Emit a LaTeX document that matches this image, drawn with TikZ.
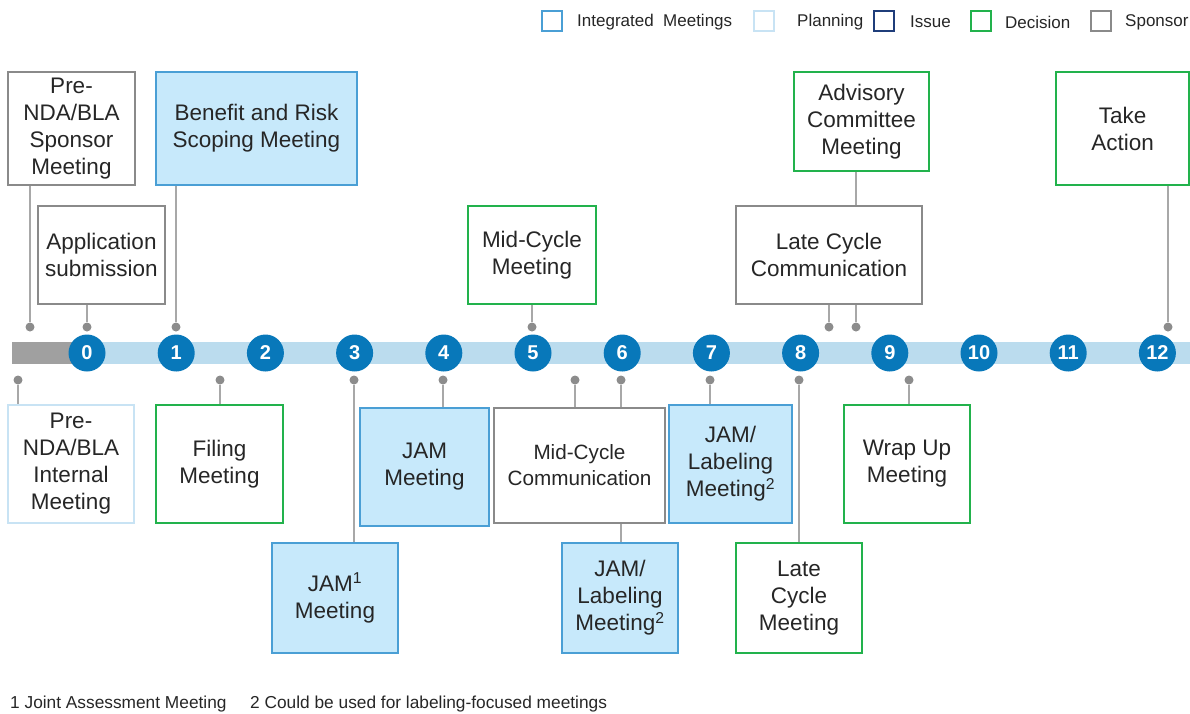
\documentclass[tikz,border=0pt]{standalone}
\usepackage{fontspec}
\setmainfont{Liberation Sans}
\definecolor{intblue}{HTML}{4A9FD5}
\definecolor{intfill}{HTML}{C7E9FB}
\definecolor{planblue}{HTML}{C8E3F4}
\definecolor{issueblue}{HTML}{1F3D7A}
\definecolor{decgreen}{HTML}{22B24C}
\definecolor{spongray}{HTML}{8A8A8A}
\definecolor{tlblue}{HTML}{0878BA}
\definecolor{barblue}{HTML}{BBDCEE}
\definecolor{bargray}{HTML}{A0A0A0}
\definecolor{dotgray}{HTML}{8C8C8C}
\definecolor{linkgray}{HTML}{A8A8A8}
\definecolor{ink}{HTML}{262626}
\begin{document}
\begin{tikzpicture}[x=1pt, y=-1pt, text=ink,
  box/.style = {draw, line width=1.6pt, align=center, inner sep=0pt, font=\fontsize{22.5}{27}\selectfont},
  integrated/.style = {box, draw=intblue, fill=intfill},
  planning/.style = {box, draw=planblue},
  decision/.style = {box, draw=decgreen},
  sponsor/.style = {box, draw=spongray},
  tick/.style = {circle, fill=tlblue, text=white, inner sep=0pt, minimum size=37pt, font=\fontsize{20}{20}\selectfont\bfseries},
  dot/.style = {circle, fill=dotgray, inner sep=0pt, minimum size=9pt},
  link/.style = {draw=linkgray, line width=1.3pt},
  key/.style = {draw, line width=1.8pt, minimum size=20pt, inner sep=0pt},
  keytext/.style = {anchor=west, inner sep=0pt, font=\fontsize{17}{17}\selectfont},
  note/.style = {anchor=west, inner sep=0pt, font=\fontsize{17.3}{17.3}\selectfont}]

  \useasboundingbox (0,0) rectangle (1190,713);

  % legend
  \node[key, draw=intblue] (K_int) at (552,21) {};
  \node[keytext] (L_int) at (577,22) {Integrated\ \ Meetings};
  \node[key, draw=planblue] (K_plan) at (764,21) {};
  \node[keytext] (L_plan) at (797,22) {Planning};
  \node[key, draw=issueblue] (K_issue) at (884,21) {};
  \node[keytext] (L_issue) at (910,22) {Issue};
  \node[key, draw=decgreen] (K_dec) at (981,21) {};
  \node[keytext] (L_dec) at (1005,22) {Decision};
  \node[key, draw=spongray] (K_spon) at (1101,21) {};
  \node[keytext] (L_spon) at (1125,22) {Sponsor};

  % timeline bar
  \fill[bargray] (12,342) rectangle (87,364);
  \fill[barblue] (87,342) rectangle (1190,364);

  \foreach \i in {0, ..., 12}
    \node[tick] (T_\i) at ({87+89.2*\i},353) {\i};

  % boxes above the timeline
  \node[sponsor, minimum width=127pt, minimum height=113pt] (PSM) at (71.5,128.5) {Pre-\\NDA/BLA\\Sponsor\\Meeting};
  \node[integrated, minimum width=201pt, minimum height=113pt] (BRS) at (256.5,128.5) {Benefit and Risk\\Scoping Meeting};
  \node[sponsor, minimum width=127pt, minimum height=98pt] (APP) at (101.5,255) {Application\\submission};
  \node[decision, minimum width=128pt, minimum height=98pt] (MCM) at (532,255) {Mid-Cycle\\Meeting};
  \node[decision, minimum width=135pt, minimum height=99pt] (ACM) at (861.5,121.5) {Advisory\\Committee\\Meeting};
  \node[sponsor, minimum width=186pt, minimum height=98pt] (LCC) at (829,255) {Late Cycle\\Communication};
  \node[decision, minimum width=133pt, minimum height=113pt] (TA) at (1122.5,128.5) {Take\\Action};

  % boxes below the timeline
  \node[planning, minimum width=126pt, minimum height=118pt] (PIM) at (71,464) {Pre-\\NDA/BLA\\Internal\\Meeting};
  \node[decision, minimum width=127pt, minimum height=118pt] (FIL) at (219.5,464) {Filing\\Meeting};
  \node[integrated, minimum width=126pt, minimum height=110pt] (JAM_a) at (335,598) {JAM\textsuperscript{1}\\Meeting};
  \node[integrated, minimum width=129pt, minimum height=118pt] (JAM_b) at (424.5,467) {JAM\\Meeting};
  \node[sponsor, minimum width=171pt, minimum height=115pt, font=\fontsize{20.7}{26}\selectfont] (MCC) at (579.5,465.5) {Mid-Cycle\\Communication};
  \node[integrated, minimum width=116pt, minimum height=110pt] (JLB_a) at (620,598) {JAM/\\Labeling\\Meeting\textsuperscript{2}};
  \node[integrated, minimum width=123pt, minimum height=118pt] (JLB_b) at (730.5,464) {JAM/\\Labeling\\Meeting\textsuperscript{2}};
  \node[decision, minimum width=126pt, minimum height=110pt] (LCM) at (799,598) {Late\\Cycle\\Meeting};
  \node[decision, minimum width=126pt, minimum height=118pt] (WUM) at (907,464) {Wrap Up\\Meeting};

  % dots above
  \node[dot] (UP_0) at (30,327) {};
  \node[dot] (UP_1) at (87,327) {};
  \node[dot] (UP_2) at (176,327) {};
  \node[dot] (UP_3) at (532,327) {};
  \node[dot] (UP_4) at (829,327) {};
  \node[dot] (UP_5) at (856,327) {};
  \node[dot] (UP_6) at (1168,327) {};

  % dots below
  \node[dot] (DN_0) at (18,380) {};
  \node[dot] (DN_1) at (220,380) {};
  \node[dot] (DN_2) at (354,380) {};
  \node[dot] (DN_3) at (443,380) {};
  \node[dot] (DN_4) at (575,380) {};
  \node[dot] (DN_5) at (621,380) {};
  \node[dot] (DN_6) at (710,380) {};
  \node[dot] (DN_7) at (799,380) {};
  \node[dot] (DN_8) at (909,380) {};

  % connectors
  \draw[link] (PSM.south -| UP_0) -- (UP_0);
  \draw[link] (APP.south -| UP_1) -- (UP_1);
  \draw[link] (BRS.south -| UP_2) -- (UP_2);
  \draw[link] (MCM.south -| UP_3) -- (UP_3);
  \draw[link] (LCC.south -| UP_4) -- (UP_4);
  \draw[link] (LCC.south -| UP_5) -- (UP_5);
  \draw[link] (ACM.south -| UP_5) -- (LCC.north -| UP_5);
  \draw[link] (TA.south -| UP_6) -- (UP_6);

  \draw[link] (DN_0) -- (PIM.north -| DN_0);
  \draw[link] (DN_1) -- (FIL.north -| DN_1);
  \draw[link] (DN_2) -- (JAM_a.north -| DN_2);
  \draw[link] (DN_3) -- (JAM_b.north -| DN_3);
  \draw[link] (DN_4) -- (MCC.north -| DN_4);
  \draw[link] (DN_5) -- (MCC.north -| DN_5);
  \draw[link] (MCC.south -| DN_5) -- (JLB_a.north -| DN_5);
  \draw[link] (DN_6) -- (JLB_b.north -| DN_6);
  \draw[link] (DN_7) -- (LCM.north -| DN_7);
  \draw[link] (DN_8) -- (WUM.north -| DN_8);

  % footnotes
  \node[note] (FN_1) at (10,704) {1 Joint Assessment Meeting};
  \node[note] (FN_2) at (250,704) {2 Could be used for labeling-focused meetings};

\end{tikzpicture}
\end{document}
